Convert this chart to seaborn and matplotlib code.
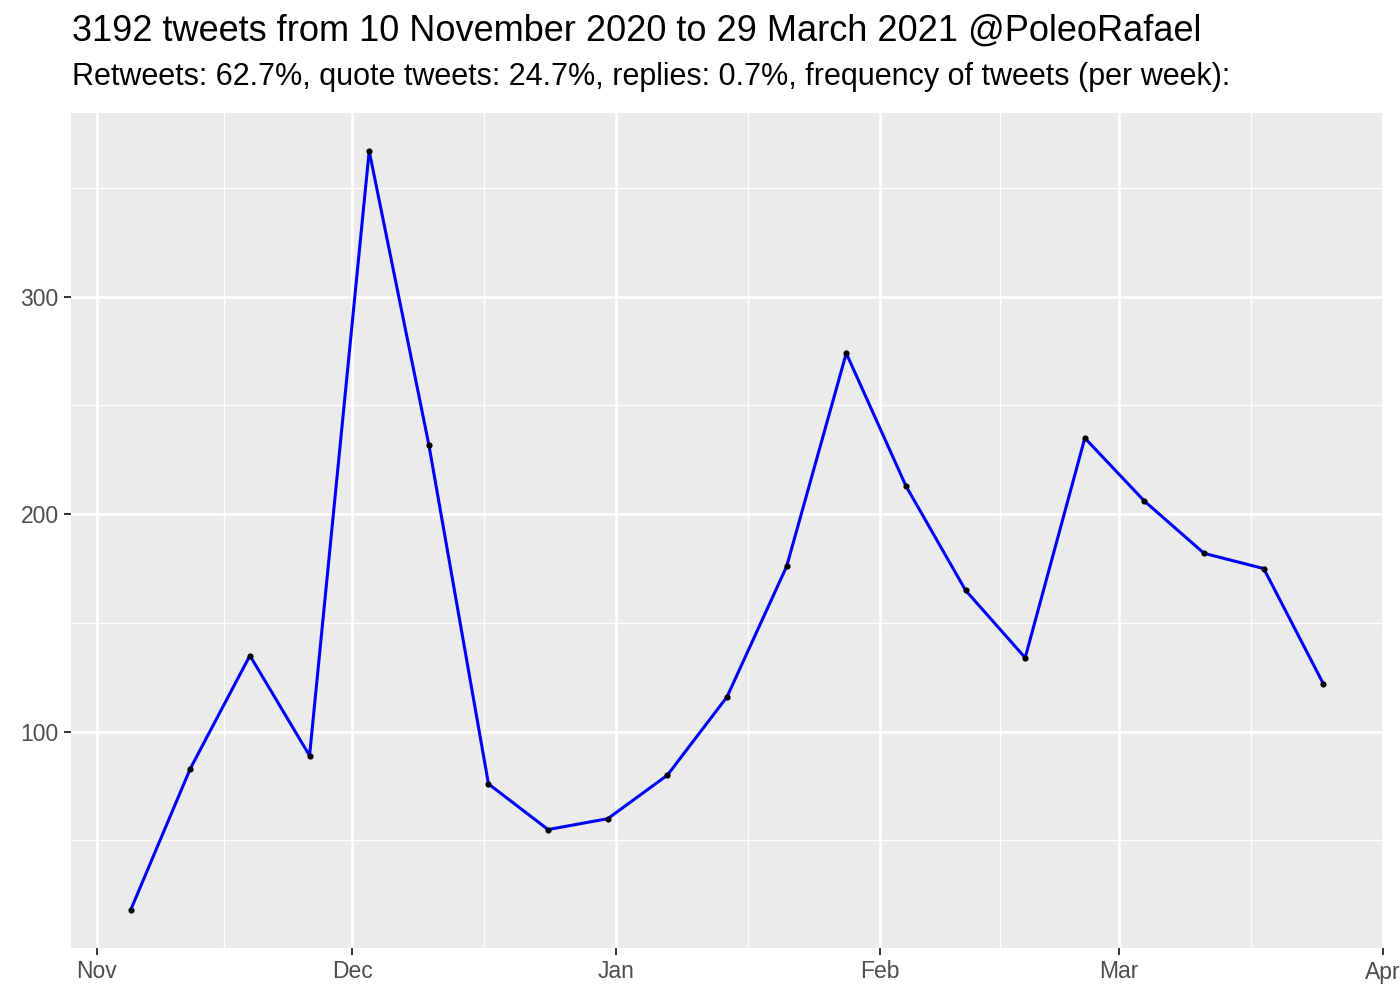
import numpy as np
import pandas as pd
import seaborn as sns
import matplotlib.pyplot as plt
import matplotlib.dates as mdates
from matplotlib.ticker import FixedLocator

# weekly tweet counts (week midpoints)
week_start = "2020-11-05"
n_weeks = 21
tweets = [18, 83, 135, 89, 367, 232, 76, 55, 60, 80, 116, 176, 274, 213,
          165, 134, 235, 206, 182, 175, 122]
month_ticks = ["2020-11-01", "2020-12-01", "2021-01-01", "2021-02-01",
               "2021-03-01", "2021-04-01"]
month_labels = ["Nov", "Dec", "Jan", "Feb", "Mar", "Apr"]
y_major = [100, 200, 300]
y_minor = [50, 150, 250, 350]

title = "3192 tweets from 10 November 2020 to 29 March 2021 @PoleoRafael"
subtitle = ("Retweets: 62.7%, quote tweets: 24.7%, replies: 0.7%, "
            "frequency of tweets (per week):")

df = pd.DataFrame({
    "week": pd.date_range(week_start, periods=n_weeks, freq="7D"),
    "tweets": tweets,
})

sns.set_theme(style="darkgrid", rc={
    "axes.facecolor": "#EBEBEB",
    "grid.color": "white",
})
plt.rcParams["font.family"] = ["Liberation Sans", "DejaVu Sans"]

fig = plt.figure(figsize=(14, 10), dpi=100)
ax = fig.add_axes([71 / 1400, 52 / 1000, 1312 / 1400, 835 / 1000])

sns.lineplot(data=df, x="week", y="tweets", color="#0000FF", linewidth=2.2,
             ax=ax, zorder=3)
sns.scatterplot(data=df, x="week", y="tweets", color="black", s=20,
                edgecolor="black", linewidth=0, ax=ax, zorder=4)

# ggplot-like limits (5% expansion)
xnum = mdates.date2num(df["week"])
span = xnum.max() - xnum.min()
ax.set_xlim(xnum.min() - 0.05 * span, xnum.max() + 0.05 * span)
yspan = max(tweets) - min(tweets)
ax.set_ylim(min(tweets) - 0.05 * yspan, max(tweets) + 0.05 * yspan)

major = mdates.date2num(pd.to_datetime(month_ticks))
minor = (major[:-1] + major[1:]) / 2
ax.xaxis.set_major_locator(FixedLocator(major))
ax.xaxis.set_minor_locator(FixedLocator(minor))
ax.set_xticklabels(month_labels)
ax.yaxis.set_major_locator(FixedLocator(y_major))
ax.yaxis.set_minor_locator(FixedLocator(y_minor))

ax.grid(which="major", color="white", linewidth=1.8)
ax.grid(which="minor", color="white", linewidth=0.9)
ax.tick_params(which="major", length=5, width=1.4, color="#333333",
               labelsize=16.5, labelcolor="#4D4D4D", pad=4,
               bottom=True, left=True)
ax.tick_params(which="minor", length=0)
for s in ax.spines.values():
    s.set_visible(False)
ax.set_xlabel("")
ax.set_ylabel("")

fig.text(72 / 1400, 1 - 31 / 1000, title, fontsize=26, va="center",
         ha="left", color="black")
fig.text(72 / 1400, 1 - 77 / 1000, subtitle, fontsize=22, va="center",
         ha="left", color="black")

fig.savefig("out.png", dpi=100)
